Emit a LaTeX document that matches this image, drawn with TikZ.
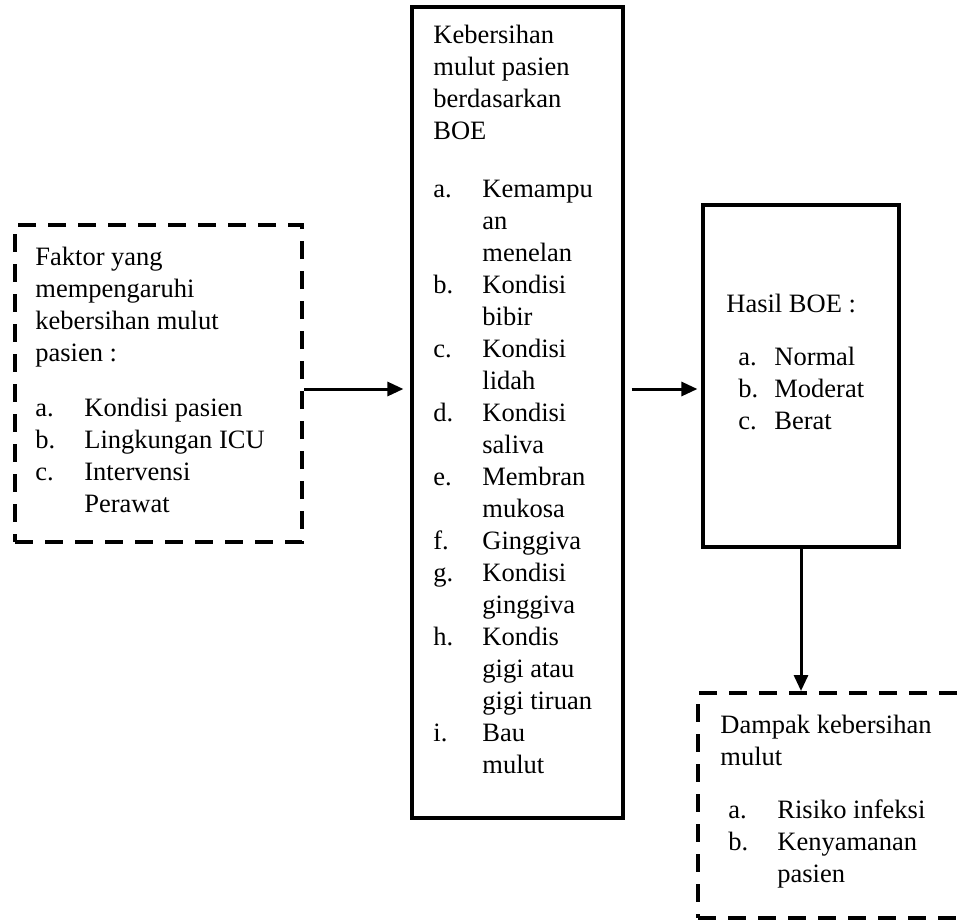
\documentclass[tikz,border=0pt]{standalone}
\usepackage{fontspec}
\setmainfont{Liberation Serif}
\usetikzlibrary{arrows.meta,positioning}

\newcommand{\lbl}[2][24.5pt]{\makebox[#1][l]{#2}}

\tikzset{
  solidbox/.style={draw, line width=1.6pt, rectangle, inner sep=0pt},
  dashbox/.style={draw, line width=2pt, dash pattern=on 9pt off 6pt, rectangle, inner sep=0pt},
  txt/.style={anchor=north west, align=left, inner sep=0pt, font=\fontsize{13.25pt}{16pt}\selectfont},
  arr/.style={-{Triangle[length=8pt,width=7pt]}, line width=1.5pt}
}

\begin{document}
\begin{tikzpicture}[x=0.5pt, y=-0.5pt]
  \clip (0,0) rectangle (965,923);
  \useasboundingbox (0,0) rectangle (965,923);

  % boxes
  \node[dashbox, minimum width=143.5pt, minimum height=158.5pt] (faktor) at (158.5,383.5) {};
  \node[solidbox, minimum width=105.5pt, minimum height=405.5pt] (boe) at (517.5,412.5) {};
  \node[solidbox, minimum width=98pt, minimum height=171pt] (hasil) at (801,376) {};
  \node[dashbox, minimum width=151pt, minimum height=112.5pt] (dampak) at (849,805.5) {};

  % texts
  \node[txt] (faktortxt) at (35,247) {Faktor yang\\ mempengaruhi\\ kebersihan mulut\\ pasien :\\[11.5pt]
    \lbl{a.}Kondisi pasien\\ \lbl{b.}Lingkungan ICU\\ \lbl{c.}Intervensi\\ \lbl{}Perawat};
  \node[txt] (boetxt) at (433,25) {Kebersihan\\ mulut pasien\\ berdasarkan\\ BOE\\[13pt]
    \lbl{a.}Kemampu\\ \lbl{}an\\ \lbl{}menelan\\
    \lbl{b.}Kondisi\\ \lbl{}bibir\\
    \lbl{c.}Kondisi\\ \lbl{}lidah\\
    \lbl{d.}Kondisi\\ \lbl{}saliva\\
    \lbl{e.}Membran\\ \lbl{}mukosa\\
    \lbl{f.}Ginggiva\\
    \lbl{g.}Kondisi\\ \lbl{}ginggiva\\
    \lbl{h.}Kondis\\ \lbl{}gigi atau\\ \lbl{}gigi tiruan\\
    \lbl{i.}Bau\\ \lbl{}mulut};
  \node[txt] (hasiltxt) at (726,294) {Hasil BOE :\\[10.5pt]
    \hspace{6pt}\lbl[18pt]{a.}Normal\\ \hspace{6pt}\lbl[18pt]{b.}Moderat\\ \hspace{6pt}\lbl[18pt]{c.}Berat};
  \node[txt] (dampaktxt) at (720,715) {Dampak kebersihan\\ mulut\\[10.5pt]
    \hspace{4pt}\lbl{a.}Risiko infeksi\\ \hspace{4pt}\lbl{b.}Kenyamanan\\ \hspace{4pt}\lbl{}pasien};

  % arrows
  \draw[arr, shorten >=3.5pt] ([yshift=-2.75pt]faktor.east) -- ([yshift=-2.75pt]faktor.east -| boe.west);
  \draw[arr, shorten <=3.5pt, shorten >=2pt] ([yshift=-2.75pt]faktor.east -| boe.east) -- ([yshift=-2.75pt]faktor.east -| hasil.west);
  \draw[arr] (hasil.south) -- (hasil.south |- dampak.north);
\end{tikzpicture}
\end{document}
